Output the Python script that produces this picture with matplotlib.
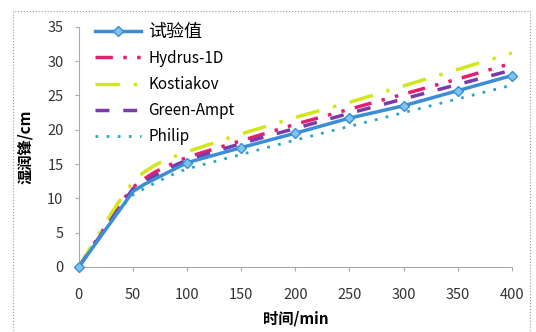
import matplotlib
matplotlib.use("Agg")
import matplotlib.pyplot as plt
from matplotlib.patches import Rectangle

plt.rcParams['font.family'] = ['Noto Sans CJK SC', 'DejaVu Sans']

# time (min)
t = [0, 10, 20, 30, 40, 50, 60, 70, 80, 90, 100, 150, 200, 250, 300, 350, 400]

# wetting front (cm)
measured = [0, 2.2, 4.4, 6.6, 8.8, 11.0, 12.0, 12.8, 13.6, 14.4, 15.2, 17.4, 19.5, 21.7, 23.5, 25.7, 27.9]
hydrus = [0, 2.4, 4.8, 7.2, 9.6, 11.6, 12.8, 13.8, 14.6, 15.3, 16.0, 18.4, 20.8, 23.0, 25.2, 27.4, 29.7]
kostiakov = [0, 2.6, 5.2, 7.8, 10.2, 12.4, 13.8, 14.8, 15.6, 16.2, 16.8, 19.4, 21.8, 24.0, 26.4, 28.8, 31.2]
green_ampt = [0, 2.3, 4.6, 6.9, 9.2, 11.4, 12.4, 13.3, 14.1, 14.9, 15.6, 18.0, 20.2, 22.4, 24.5, 26.6, 28.7]
philip = [0, 2.2, 4.4, 6.6, 8.8, 10.5, 11.4, 12.2, 13.0, 13.7, 14.3, 16.4, 18.5, 20.5, 22.5, 24.5, 26.5]

marker_every = [0, 10, 11, 12, 13, 14, 15, 16]

fig = plt.figure(figsize=(5.36, 3.32), dpi=100)
ax = fig.add_axes([0.147, 0.196, 0.808, 0.723])

ax.plot(t, hydrus, color="#e3206f", lw=2.5, ls=(0, (5, 3, 1, 3, 1, 3)), label="Hydrus-1D")
ax.plot(t, kostiakov, color="#d2e61c", lw=2.5, ls=(0, (7, 4, 1, 4)), label="Kostiakov")
ax.plot(t, green_ampt, color="#7a3aa8", lw=2.5, ls=(0, (4, 4)), label="Green-Ampt")
ax.plot(t, philip, color="#2aa6c6", lw=2, ls=(0, (1, 3)), label="Philip")
ax.plot(t, measured, color="#3a8ed6", lw=2.5, marker="D", ms=5.5,
        mfc="#7fc3ee", mec="#3a8ed6", markevery=marker_every, label="试验值",
        zorder=5, clip_on=False)

ax.set_xlim(0, 400)
ax.set_ylim(0, 35)
ax.set_xticks(range(0, 401, 50))
ax.set_yticks(range(0, 36, 5))
for s in ["top", "right"]:
    ax.spines[s].set_visible(False)
for s in ["left", "bottom"]:
    ax.spines[s].set_color("#aaaaaa")
    ax.spines[s].set_linewidth(0.8)
ax.tick_params(colors="#aaaaaa", labelcolor="#333333", labelsize=10.5, length=3, pad=12)
ax.tick_params(axis="y", pad=8)

ax.set_xlabel("时间/min", fontsize=11, fontweight="bold", labelpad=6)
ax.set_ylabel("湿润锋/cm", fontsize=11, fontweight="bold", labelpad=10)

h, l = ax.get_legend_handles_labels()
order = [4, 0, 1, 2, 3]
leg = ax.legend([h[i] for i in order], [l[i] for i in order], loc="upper left",
                bbox_to_anchor=(0.005, 1.075), frameon=False, handlelength=3.0,
                labelspacing=0.6, fontsize=11, handletextpad=0.5)
leg.get_texts()[0].set_fontsize(13)

fig.patches.append(Rectangle((0.024, -0.01), 0.965, 0.978, transform=fig.transFigure,
                             fill=False, ec="#999999", ls=":", lw=0.8))

fig.savefig("out.png", dpi=100)
